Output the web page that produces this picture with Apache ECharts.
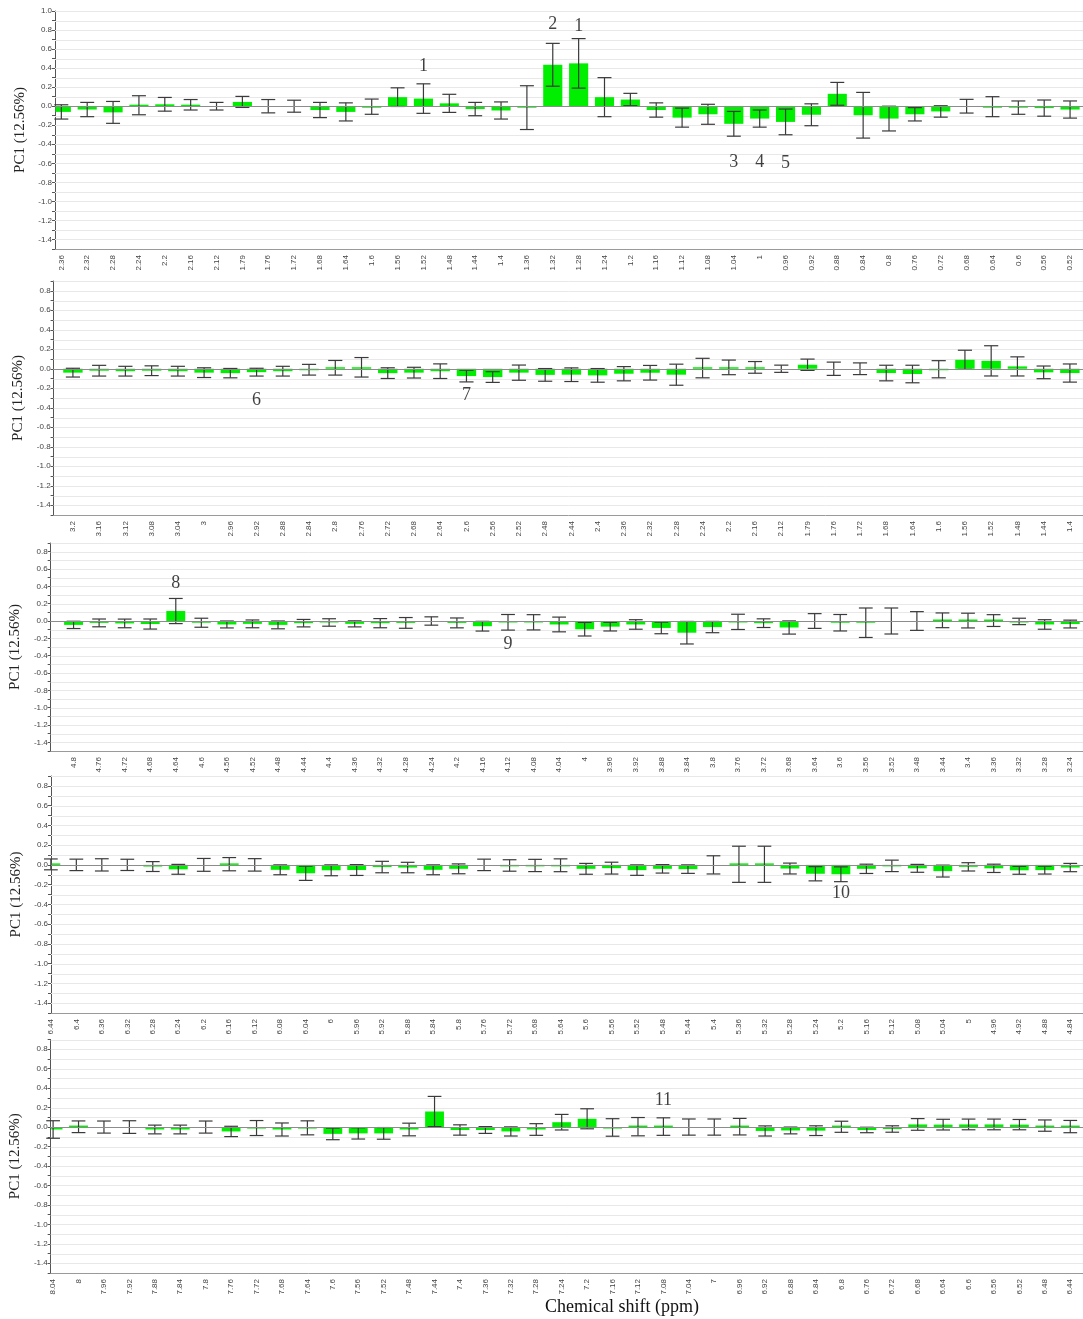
<!DOCTYPE html>
<html>
<head>
<meta charset="utf-8">
<title>PC1 loadings</title>
<script src="https://cdn.jsdelivr.net/npm/echarts@6/dist/echarts.min.js"></script>
<style>
  html, body { margin: 0; padding: 0; background: #fff; }
  #chart { width: 1083px; height: 1319px; }
</style>
</head>
<body>
<div id="chart"></div>
<script>
// Chemical shift bins (ppm), PC1 loadings and their confidence half-widths, one set per panel.
const shifts1 = ['2.36','2.32','2.28','2.24','2.2','2.16','2.12','1.79','1.76','1.72','1.68','1.64','1.6','1.56','1.52','1.48','1.44','1.4','1.36','1.32','1.28','1.24','1.2','1.16','1.12','1.08','1.04','1','0.96','0.92','0.88','0.84','0.8','0.76','0.72','0.68','0.64','0.6','0.56','0.52'];
const load1 = [-0.06,-0.035,-0.065,0.01,0.02,0.015,0,0.045,0,0,-0.04,-0.06,-0.005,0.095,0.08,0.03,-0.03,-0.045,-0.015,0.435,0.45,0.095,0.07,-0.04,-0.12,-0.085,-0.185,-0.13,-0.165,-0.09,0.13,-0.095,-0.13,-0.085,-0.055,0,-0.005,-0.015,-0.02,-0.035];
const err1 = [0.075,0.075,0.115,0.10,0.072,0.055,0.04,0.058,0.07,0.063,0.08,0.095,0.08,0.098,0.155,0.095,0.07,0.09,0.23,0.225,0.26,0.205,0.065,0.075,0.1,0.105,0.13,0.09,0.135,0.115,0.12,0.24,0.13,0.07,0.06,0.072,0.105,0.07,0.085,0.09];

const shifts2 = ['3.2','3.16','3.12','3.08','3.04','3','2.96','2.92','2.88','2.84','2.8','2.76','2.72','2.68','2.64','2.6','2.56','2.52','2.48','2.44','2.4','2.36','2.32','2.28','2.24','2.2','2.16','2.12','1.79','1.76','1.72','1.68','1.64','1.6','1.56','1.52','1.48','1.44','1.4'];
const load2 = [-0.04,-0.02,-0.025,-0.02,-0.025,-0.04,-0.045,-0.035,-0.025,-0.01,0.01,0.015,-0.045,-0.04,-0.025,-0.075,-0.085,-0.04,-0.063,-0.061,-0.068,-0.051,-0.041,-0.061,0.007,0.014,0.014,0,0.041,0,0,-0.044,-0.054,-0.005,0.092,0.081,0.024,-0.037,-0.044];
const err2 = [0.045,0.055,0.05,0.05,0.05,0.05,0.048,0.04,0.05,0.055,0.075,0.1,0.055,0.055,0.075,0.06,0.055,0.078,0.065,0.07,0.07,0.073,0.075,0.108,0.10,0.075,0.06,0.037,0.058,0.068,0.06,0.08,0.09,0.088,0.098,0.155,0.098,0.065,0.093];

const shifts3 = ['4.8','4.76','4.72','4.68','4.64','4.6','4.56','4.52','4.48','4.44','4.4','4.36','4.32','4.28','4.24','4.2','4.16','4.12','4.08','4.04','4','3.96','3.92','3.88','3.84','3.8','3.76','3.72','3.68','3.64','3.6','3.56','3.52','3.48','3.44','3.4','3.36','3.32','3.28','3.24'];
const load3 = [-0.045,-0.022,-0.028,-0.035,0.115,-0.02,-0.04,-0.033,-0.045,-0.025,-0.017,-0.033,-0.025,-0.022,0,-0.022,-0.06,-0.015,-0.015,-0.04,-0.095,-0.065,-0.04,-0.08,-0.135,-0.07,-0.01,-0.025,-0.075,0,-0.02,-0.02,0,0,0.008,0.005,0.005,-0.005,-0.04,-0.035];
const err3 = [0.042,0.045,0.05,0.058,0.145,0.052,0.04,0.045,0.045,0.043,0.043,0.035,0.053,0.062,0.048,0.057,0.056,0.09,0.088,0.085,0.078,0.05,0.055,0.067,0.13,0.065,0.088,0.05,0.076,0.085,0.095,0.17,0.15,0.108,0.085,0.085,0.068,0.037,0.055,0.045];

const shifts4 = ['6.44','6.4','6.36','6.32','6.28','6.24','6.2','6.16','6.12','6.08','6.04','6','5.96','5.92','5.88','5.84','5.8','5.76','5.72','5.68','5.64','5.6','5.56','5.52','5.48','5.44','5.4','5.36','5.32','5.28','5.24','5.2','5.16','5.12','5.08','5.04','5','4.96','4.92','4.88','4.84'];
const load4 = [0.005,0,0,0,-0.017,-0.045,0,0.007,0,-0.05,-0.085,-0.055,-0.052,-0.022,-0.027,-0.05,-0.04,0,-0.006,-0.006,-0.004,-0.04,-0.033,-0.053,-0.04,-0.043,0,0.006,0.006,-0.037,-0.09,-0.095,-0.04,-0.01,-0.035,-0.063,-0.02,-0.035,-0.055,-0.053,-0.027];
const err4 = [0.055,0.058,0.062,0.057,0.05,0.05,0.065,0.067,0.063,0.05,0.072,0.055,0.055,0.058,0.053,0.05,0.05,0.058,0.058,0.062,0.065,0.055,0.06,0.053,0.043,0.043,0.092,0.183,0.183,0.055,0.072,0.075,0.047,0.058,0.04,0.06,0.042,0.042,0.04,0.04,0.042];

const shifts5 = ['8.04','8','7.96','7.92','7.88','7.84','7.8','7.76','7.72','7.68','7.64','7.6','7.56','7.52','7.48','7.44','7.4','7.36','7.32','7.28','7.24','7.2','7.16','7.12','7.08','7.04','7','6.96','6.92','6.88','6.84','6.8','6.76','6.72','6.68','6.64','6.6','6.56','6.52','6.48','6.44'];
const load5 = [-0.025,0.003,0,0,-0.025,-0.025,0,-0.045,-0.01,-0.025,-0.008,-0.07,-0.065,-0.065,-0.025,0.16,-0.03,-0.03,-0.045,-0.025,0.05,0.085,-0.004,0.004,0.005,0,0,0.004,-0.04,-0.035,-0.037,0.003,-0.03,-0.02,0.027,0.025,0.027,0.027,0.025,0.015,0.005];
const err5 = [0.09,0.06,0.062,0.065,0.045,0.045,0.062,0.053,0.077,0.067,0.072,0.06,0.058,0.06,0.065,0.155,0.053,0.035,0.047,0.06,0.08,0.103,0.09,0.094,0.09,0.083,0.083,0.085,0.052,0.035,0.05,0.057,0.028,0.033,0.06,0.055,0.055,0.055,0.053,0.058,0.063];

// Peak numbers: [shift, height on the PC1 scale, text]
const notes1 = [['1.52',0.42,'1'],['1.32',0.86,'2'],['1.28',0.84,'1'],['1.04',-0.59,'3'],['1',-0.59,'4'],['0.96',-0.60,'5']];
const notes2 = [['2.92',-0.32,'6'],['2.6',-0.27,'7']];
const notes3 = [['4.64',0.44,'8'],['4.12',-0.27,'9']];
const notes4 = [['5.2',-0.29,'10']];
const notes5 = [['7.08',0.28,'11']];

const yTitle = 'PC1 (12.56%)';
const xTitle = 'Chemical shift (ppm)';
const yMin = -1.5;

// Panel geometry: the y axis is pushed right/left of the grid edge by `shift` (ECharts yAxis.offset).
const panels = [
  { cats: shifts1, vals: load1, errs: err1, notes: notes1, grid: { left: 48.4, top: 11,    width: 1040,   height: 238 },   yMax: 1.0, shift: -6.6,  nameGap: 24 },
  { cats: shifts2, vals: load2, errs: err2, notes: notes2, grid: { left: 59.8, top: 281,   width: 1029.6, height: 234 },   yMax: 0.9, shift: 6.2,   nameGap: 21 },
  { cats: shifts3, vals: load3, errs: err3, notes: notes3, grid: { left: 60.1, top: 543,   width: 1030,   height: 208 },   yMax: 0.9, shift: 10.1,  nameGap: 25 },
  { cats: shifts4, vals: load4, errs: err4, notes: notes4, grid: { left: 38.1, top: 776,   width: 1055.8, height: 237 },   yMax: 0.9, shift: -12.9, nameGap: 23 },
  { cats: shifts5, vals: load5, errs: err5, notes: notes5, grid: { left: 39.7, top: 1039.5, width: 1051.6, height: 233.5 }, yMax: 0.9, shift: -10.3, nameGap: 22 }
];

const BAR_GREEN = '#00ee00';
const ERR_GREY = '#3a3a3a';

function tickLabel(v) {
  const k = Math.round(v * 10);
  return k % 2 === 0 ? (k / 10).toFixed(1) : '';
}

const option = {
  animation: false,
  backgroundColor: '#ffffff',
  grid: [], xAxis: [], yAxis: [], series: [],
  graphic: [{
    type: 'text', x: 622, y: 1307,
    style: { text: xTitle, textAlign: 'center', textVerticalAlign: 'middle', align: 'center', verticalAlign: 'middle',
             font: '18px "Liberation Serif", "Times New Roman", serif', fill: '#111' }
  }]
};

panels.forEach((p, k) => {
  const shift = p.shift;
  option.grid.push(Object.assign({ containLabel: false }, p.grid));
  option.xAxis.push({
    type: 'category', gridIndex: k, data: p.cats,
    axisLine: { show: false }, axisTick: { show: false }, splitLine: { show: false },
    axisLabel: { interval: 0, rotate: 90, fontSize: 8, color: '#444', margin: 6, fontFamily: '"Liberation Sans", Arial, sans-serif' }
  });
  option.yAxis.push({
    type: 'value', gridIndex: k, min: yMin, max: p.yMax, interval: 0.1, offset: shift,
    axisLine: { show: true, onZero: false, lineStyle: { color: '#555', width: 1 } },
    axisTick: { show: true, length: 3, lineStyle: { color: '#555' } },
    axisLabel: { fontSize: 8, color: '#444', margin: 3, formatter: tickLabel, fontFamily: '"Liberation Sans", Arial, sans-serif' },
    splitLine: { show: false },
    name: yTitle, nameLocation: 'middle', nameGap: p.nameGap,
    nameTextStyle: { fontFamily: '"Liberation Serif", "Times New Roman", serif', fontSize: 15, color: '#222' }
  });

  // light horizontal rules every 0.1 plus the bottom axis line, starting at the y axis
  option.series.push({
    type: 'custom', xAxisIndex: k, yAxisIndex: k, z: 1, silent: true,
    data: [[0, 0]],
    renderItem: (params, api) => {
      const cs = params.coordSys;
      const x0 = cs.x - shift, x1 = cs.x + cs.width;
      const children = [];
      const steps = Math.round((p.yMax - yMin) * 10);
      for (let s = 1; s <= steps; s++) {
        const y = Math.round(api.coord([0, yMin + s * 0.1])[1]) + 0.5;
        children.push({ type: 'line', shape: { x1: x0, y1: y, x2: x1, y2: y }, style: { stroke: '#e8e8e8', lineWidth: 1 } });
      }
      const yb = Math.round(api.coord([0, yMin])[1]) + 0.5;
      children.push({ type: 'line', shape: { x1: x0, y1: yb, x2: x1, y2: yb }, style: { stroke: '#9a9a9a', lineWidth: 1 } });
      return { type: 'group', children };
    }
  });

  // loading bars, clipped on the left at the y axis
  option.series.push({
    type: 'custom', xAxisIndex: k, yAxisIndex: k, z: 2,
    data: p.vals.map((v, i) => [i, v]),
    encode: { x: 0, y: 1 },
    renderItem: (params, api) => {
      const i = api.value(0), v = api.value(1);
      const base = api.coord([i, 0]), tip = api.coord([i, v]);
      const w = api.size([1, 0])[0] * 0.74;
      const axisX = params.coordSys.x - shift;
      const x0 = Math.max(base[0] - w / 2, axisX + 0.5);
      const x1 = base[0] + w / 2;
      let h = tip[1] - base[1];
      if (v !== 0 && Math.abs(h) < 1.5) h = v > 0 ? -1.5 : 1.5;
      return {
        type: 'rect',
        shape: { x: x0, y: Math.min(base[1], base[1] + h), width: x1 - x0, height: Math.abs(h) },
        style: { fill: BAR_GREEN }
      };
    }
  });

  // error bars with caps
  option.series.push({
    type: 'custom', xAxisIndex: k, yAxisIndex: k, z: 3,
    data: p.vals.map((v, i) => [i, v - p.errs[i], v + p.errs[i]]),
    encode: { x: 0, y: [1, 2] },
    renderItem: (params, api) => {
      const i = api.value(0);
      const lo = api.coord([i, api.value(1)]);
      const hi = api.coord([i, api.value(2)]);
      const cap = api.size([1, 0])[0] * 0.27;
      const style = { stroke: ERR_GREY, lineWidth: 1.2 };
      return {
        type: 'group',
        children: [
          { type: 'line', shape: { x1: lo[0], y1: lo[1], x2: hi[0], y2: hi[1] }, style },
          { type: 'line', shape: { x1: lo[0] - cap, y1: lo[1], x2: lo[0] + cap, y2: lo[1] }, style },
          { type: 'line', shape: { x1: hi[0] - cap, y1: hi[1], x2: hi[0] + cap, y2: hi[1] }, style }
        ]
      };
    }
  });

  // zero reference line
  option.series.push({
    type: 'custom', xAxisIndex: k, yAxisIndex: k, z: 4, silent: true,
    data: [[0, 0]],
    renderItem: (params, api) => {
      const cs = params.coordSys;
      const y = Math.round(api.coord([0, 0])[1]) + 0.5;
      return { type: 'line', shape: { x1: cs.x - shift, y1: y, x2: cs.x + cs.width, y2: y }, style: { stroke: '#8c8c8c', lineWidth: 1 } };
    }
  });

  // peak numbers
  option.series.push({
    type: 'scatter', xAxisIndex: k, yAxisIndex: k, z: 5, silent: true,
    symbolSize: 1, itemStyle: { color: 'transparent' },
    data: p.notes.map(n => [n[0], n[1], n[2]]),
    label: {
      show: true, position: 'inside', formatter: q => q.data[2],
      fontFamily: '"Liberation Serif", "Times New Roman", serif', fontSize: 18, color: '#111'
    }
  });
});

const chart = echarts.init(document.getElementById('chart'));
chart.setOption(option);
</script>
</body>
</html>
